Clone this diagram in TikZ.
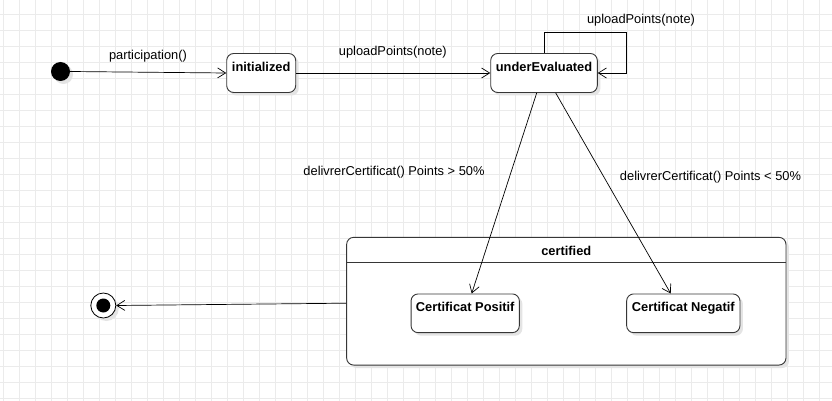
\documentclass[tikz,border=0pt]{standalone}
\usepackage{fontspec}
\setmainfont{Liberation Sans}
\usetikzlibrary{arrows.meta,shadows}
\definecolor{gridc}{HTML}{EBEBEB}
\definecolor{boxc}{HTML}{363636}
\definecolor{shadc}{HTML}{E4E4E4}
\begin{document}
\begin{tikzpicture}[x=1pt,y=-1pt,
  font=\fontsize{12.85}{15}\selectfont,
  shad/.style={drop shadow={shadow xshift=3pt,shadow yshift=-3pt,fill=shadc,opacity=1}},
  statebox/.style={draw=boxc, line width=0.9pt, rounded corners=7pt, fill=white, inner sep=0pt,
    font=\bfseries\fontsize{12.85}{15}\selectfont, shad},
  conn/.style={draw=black, line width=0.7pt, -{Straight Barb[length=8pt,width=10pt]}},
  lbl/.style={anchor=base, inner sep=0pt}]
\useasboundingbox (0,0) rectangle (832,401);
\fill[white] (0,0) rectangle (832,401);
\foreach \i in {0,...,51} \draw[gridc, line width=0.6pt] ({3+16*\i},0) -- ({3+16*\i},401);
\foreach \j in {0,...,24} \draw[gridc, line width=0.6pt] (0,{14+16*\j}) -- (832,{14+16*\j});

% container
\node[draw=boxc, line width=0.9pt, rounded corners=7pt, fill=white, inner sep=0pt,
  minimum width=439.3pt, minimum height=127.7pt, shad] (cert) at (566.3,301.2) {};
\coordinate (sepl) at (346.7,262.7);
\coordinate (sepr) at (786,262.7);
\draw[boxc, line width=0.9pt] (sepl) -- (sepr);
\node[lbl, font=\bfseries\fontsize{12.85}{15}\selectfont] (certt) at (566.3,255.7) {certified};

% states
\node[statebox, minimum width=69pt, text height=18pt, text depth=21pt] (init) at (261.2,73) {initialized};
\node[statebox, minimum width=106.6pt, text height=18pt, text depth=21pt] (under) at (544,73) {underEvaluated};
\node[statebox, minimum width=108.3pt, text height=17.7pt, text depth=21pt] (pos) at (465.2,313.3) {Certificat Positif};
\node[statebox, minimum width=113.3pt, text height=17.7pt, text depth=21pt] (neg) at (683.3,313.3) {Certificat Negatif};

% initial and final
\node[circle, fill=black, minimum size=19pt, inner sep=0pt, shad] (start) at (60.5,71.5) {};
\node[circle, draw=black, fill=white, line width=0.8pt, minimum size=25pt, inner sep=0pt, shad] (end) at (103.3,305.5) {};
\node[circle, fill=black, minimum size=14pt, inner sep=0pt] (endin) at (end) {};

% edges
\draw[conn] (start.east) -- (init.west);
\draw[conn] (init.east) -- (under.west);
\coordinate (loopc) at (626.7,32.3);
\draw[conn] (under.north) |- (loopc) |- (under.east);
\draw[conn] ([xshift=-7.3pt]under.south) -- ([xshift=6.5pt]pos.north);
\draw[conn] ([xshift=11.7pt]under.south) -- ([xshift=-12.6pt]neg.north);
\draw[conn] ([yshift=-2pt]cert.west) -- (end.east);

% labels
\node[lbl] (l1) at (148,60) {participation()};
\node[lbl] (l2) at (392.8,56) {uploadPoints(note)};
\node[lbl] (l3) at (641,24) {uploadPoints(note)};
\node[lbl] (l4) at (394,175) {delivrerCertificat() Points > 50\%};
\node[lbl] (l5) at (710.5,180) {delivrerCertificat() Points < 50\%};
\end{tikzpicture}
\end{document}
